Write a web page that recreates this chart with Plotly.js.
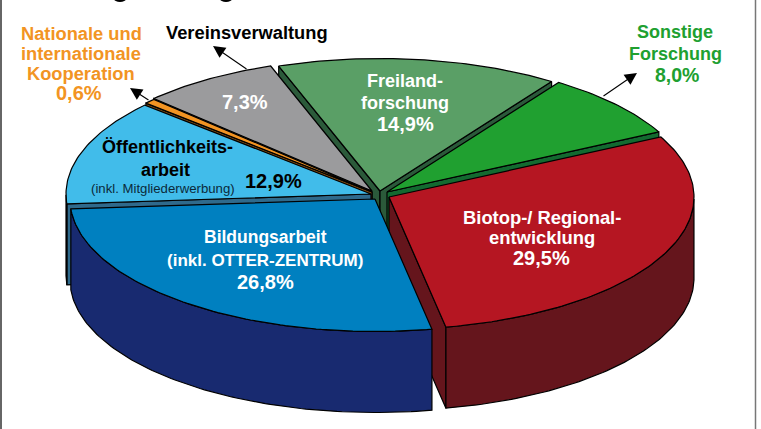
<!DOCTYPE html>
<html><head><meta charset="utf-8">
<script src="https://cdn.plot.ly/plotly-3.0.1.min.js"></script>
<style>html,body{margin:0;padding:0;background:#fff}#c{width:761px;height:429px}</style></head>
<body><div id="c"></div>
<script>
// data, clockwise round the pie
const categories = ["Freilandforschung","Sonstige Forschung","Biotop-/Regionalentwicklung","Bildungsarbeit","Öffentlichkeitsarbeit","Nationale und internationale Kooperation","Vereinsverwaltung"];
const shares     = [14.9, 8.0, 29.5, 26.8, 12.9, 0.6, 7.3];
// pie geometry and styling (not data)
const firstAngle = -19.4;  // clockwise from top, where Freilandforschung starts
const apexX  = [380, 387, 389, 375, 371, 372, 372];
const apexY  = [191, 192, 197, 199, 194, 192, 191];
const topColors  = ["#5a9f66","#20a030","#b51622","#0080c0","#41bcea","#f29423","#9b9b9d"];
const sideColors = ["#2b5a3a","#136a30","#65151c","#182a70","#2f6a8c","#7a4a12","#555557"];
const drawOrder  = [0, 1, 6, 5, 4, 2, 3];  // back to front
const RX = 305, RY = 132.5, DEPTH = 81;

const rad = d => d * Math.PI / 180;
const rimX = (i, t) => apexX[i] + RX * Math.sin(rad(t));
const rimY = (i, t) => apexY[i] - RY * Math.cos(rad(t));
const starts = [];
shares.reduce((a, v, i) => { starts[i] = a; return a + v * 3.6; }, firstAngle);

const traces = [];
function poly(xs, ys, color, name) {
  traces.push({type:"scatter", mode:"lines", x:[...xs, xs[0]], y:[...ys, ys[0]], fill:"toself",
    fillcolor:color, line:{color:"#000", width:1.2}, name:name, hoverinfo:"name", showlegend:false});
}
function cutFace(i, t) {
  const x1 = rimX(i, t), y1 = rimY(i, t);
  poly([apexX[i], x1, x1, apexX[i]], [apexY[i], y1, y1 + DEPTH, apexY[i] + DEPTH], sideColors[i], categories[i]);
}
drawOrder.forEach(i => {
  const start = starts[i], sweep = shares[i] * 3.6, end = start + sweep;
  const n = Math.max(2, Math.ceil(sweep));
  const ts = Array.from({length:n + 1}, (_, k) => start + sweep * k / n);
  // the two cut faces, only where they turn towards the viewer
  if (Math.sin(rad(start)) < 0) cutFace(i, start);
  if (Math.sin(rad(end)) > 0) cutFace(i, end);
  // outer wall on the front half of the rim
  const wall = ts.filter(t => Math.cos(rad(t)) < 0);
  if (wall.length > 1) {
    const xs = wall.map(t => rimX(i, t)), ys = wall.map(t => rimY(i, t));
    poly([...xs, ...xs.slice().reverse()], [...ys, ...ys.slice().reverse().map(y => y + DEPTH)], sideColors[i], categories[i]);
  }
  // top face
  poly([apexX[i], ...ts.map(t => rimX(i, t))], [apexY[i], ...ts.map(t => rimY(i, t))], topColors[i], categories[i]);
});

const FONT = "Liberation Sans, Arial, sans-serif";
const lab = (x, y, text, size, color, bold = true) => ({x, y, text: bold ? "<b>" + text + "</b>" : text,
  showarrow:false, xanchor:"center", yanchor:"middle", align:"center", font:{family:FONT, size, color}});
const arrow = (x, y, ax, ay) => ({x, y, ax, ay, axref:"x", ayref:"y", text:"", showarrow:true,
  arrowhead:2, arrowsize:2.2, arrowwidth:1.1, arrowcolor:"#000"});
const annotations = [
  lab(81, 33, "Nationale und", 18.3, "#f29423"), lab(81, 53, "internationale", 18.3, "#f29423"),
  lab(81, 73, "Kooperation", 18.3, "#f29423"), lab(79, 93, "0,6%", 20, "#f29423"),
  lab(247, 32, "Vereinsverwaltung", 18.3, "#000"),
  lab(675, 32, "Sonstige", 18, "#20a030"), lab(675, 54, "Forschung", 18, "#20a030"), lab(677, 75, "8,0%", 19.5, "#20a030"),
  lab(245, 102, "7,3%", 20, "#fff"),
  lab(405, 81, "Freiland-", 18, "#fff"), lab(405, 103, "forschung", 18, "#fff"), lab(405, 124, "14,9%", 20, "#fff"),
  lab(542, 217, "Biotop-/ Regional-", 18.4, "#fff"), lab(542, 237, "entwicklung", 18.4, "#fff"), lab(541, 258, "29,5%", 20, "#fff"),
  lab(265, 237, "Bildungsarbeit", 17.5, "#fff"), lab(265, 260, "(inkl. OTTER-ZENTRUM)", 17, "#fff"), lab(265, 282, "26,8%", 20, "#fff"),
  lab(167, 147, "Öffentlichkeits-", 18, "#000"), lab(165, 170, "arbeit", 18, "#000"),
  lab(163, 188, "(inkl. Mitgliederwerbung)", 13.2, "#0b2a3a", false),
  lab(273, 181, "12,9%", 20, "#000"),
  arrow(213, 46, 248, 70),
  arrow(130, 88, 150, 101),
  arrow(637, 73, 602, 97)
];
const layout = {
  width:761, height:429, margin:{l:0,r:0,t:0,b:0}, paper_bgcolor:"#fff", plot_bgcolor:"#fff", showlegend:false,
  xaxis:{range:[0,761], visible:false, fixedrange:true},
  yaxis:{range:[429,0], visible:false, fixedrange:true},
  annotations,
  shapes:[
    {type:"line", x0:1, x1:1, y0:0, y1:429, line:{color:"#333", width:1.5}},
    {type:"line", x0:755.5, x1:755.5, y0:0, y1:429, line:{color:"#777", width:1.5}},
    // remnants of the cropped-off heading at the very top edge
    {type:"circle", x0:114, x1:126, y0:-4, y1:2, fillcolor:"#000", line:{width:0}},
    {type:"circle", x0:220, x1:232, y0:-4, y1:2, fillcolor:"#000", line:{width:0}}
  ]
};
Plotly.newPlot("c", traces, layout, {displayModeBar:false, staticPlot:true});
</script></body></html>
